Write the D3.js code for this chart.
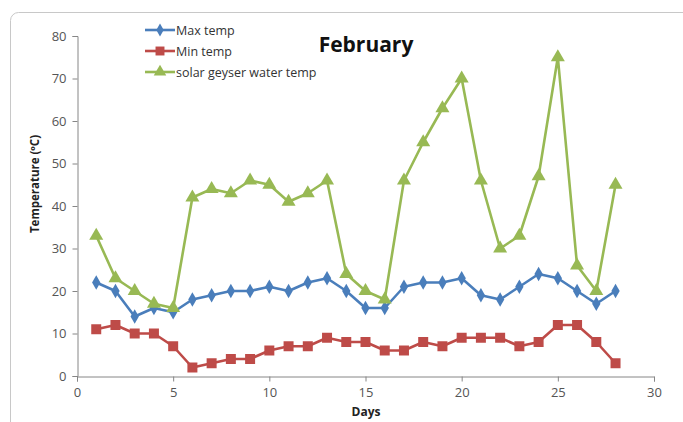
<!DOCTYPE html>
<html>
<head>
<meta charset="utf-8">
<script src="https://cdn.jsdelivr.net/npm/d3@7"></script>
<style>
  html, body { margin: 0; padding: 0; background: #fff; }
  svg { display: block; }
</style>
</head>
<body>
<svg id="chart" width="683" height="422"></svg>
<script>
// Daily temperatures for February
const days = d3.range(1, 29);
const maxTemp = [22,20,14,16,15,18,19,20,20,21,20,22,23,20,16,16,21,22,22,23,19,18,21,24,23,20,17,20];
const minTemp = [11,12,10,10,7,2,3,4,4,6,7,7,9,8,8,6,6,8,7,9,9,9,7,8,12,12,8,3];
const geyserTemp = [33,23,20,17,16,42,44,43,46,45,41,43,46,24,20,18,46,55,63,70,46,30,33,47,75,26,20,45];

const seriesNames = ["Max temp", "Min temp", "solar geyser water temp"];
const xTicks = [0, 5, 10, 15, 20, 25, 30];
const yTicks = [0, 10, 20, 30, 40, 50, 60, 70, 80];

const series = [
  { name: seriesNames[0], values: maxTemp, color: "#4a7ebb", symbol: d3.symbolDiamond, size: 60 },
  { name: seriesNames[1], values: minTemp, color: "#be4b48", symbol: d3.symbolSquare, size: 100 },
  { name: seriesNames[2], values: geyserTemp, color: "#98b954", symbol: d3.symbolTriangle, size: 85 }
];

const svg = d3.select("#chart");
const font = "Open Sans, Liberation Sans, sans-serif";

// outer frame
svg.append("rect")
  .attr("x", 10.5).attr("y", 12.5)
  .attr("width", 700).attr("height", 440)
  .attr("rx", 8).attr("ry", 8)
  .attr("fill", "#fff").attr("stroke", "#c8c8c8").attr("stroke-width", 1);

const x = d3.scaleLinear().domain([0, 30]).range([77, 654]);
const y = d3.scaleLinear().domain([0, 80]).range([376, 36]);

const axisColor = "#868686";

// x axis
const gx = svg.append("g").attr("transform", `translate(0,${y(0) + 0.5})`)
  .call(d3.axisBottom(x).tickValues(xTicks).tickSize(5).tickPadding(6));
gx.select(".domain").attr("stroke", axisColor);
gx.selectAll(".tick line").attr("stroke", axisColor);
gx.selectAll(".tick text").attr("fill", "#555").attr("font-size", 13).attr("font-family", font);

// y axis
const gy = svg.append("g").attr("transform", `translate(${x(0) + 0.5},0)`)
  .call(d3.axisLeft(y).tickValues(yTicks).tickSize(5).tickPadding(6));
gy.select(".domain").attr("stroke", axisColor);
gy.selectAll(".tick line").attr("stroke", axisColor);
gy.selectAll(".tick text").attr("fill", "#555").attr("font-size", 13).attr("font-family", font);

// series lines and markers
series.forEach(s => {
  const pts = days.map((d, i) => [d, s.values[i]]);
  svg.append("path")
    .datum(pts)
    .attr("fill", "none")
    .attr("stroke", s.color)
    .attr("stroke-width", 2.6)
    .attr("stroke-linejoin", "round")
    .attr("d", d3.line().x(p => x(p[0])).y(p => y(p[1])));
  svg.append("g").selectAll("path")
    .data(pts)
    .join("path")
    .attr("transform", p => `translate(${x(p[0])},${y(p[1])})`)
    .attr("d", d3.symbol().type(s.symbol).size(s.size))
    .attr("fill", s.color);
});

// legend
const legend = svg.append("g").attr("transform", "translate(145,30)");
series.forEach((s, i) => {
  const g = legend.append("g").attr("transform", `translate(0,${i * 21})`);
  g.append("line").attr("x1", 0).attr("x2", 30).attr("y1", 0).attr("y2", 0)
    .attr("stroke", s.color).attr("stroke-width", 2.6);
  g.append("path").attr("transform", "translate(15,0)")
    .attr("d", d3.symbol().type(s.symbol).size(s.size * 0.8))
    .attr("fill", s.color);
  g.append("text").attr("x", 31).attr("y", 4.5)
    .attr("font-size", 12.5).attr("font-family", font).attr("fill", "#333")
    .text(s.name);
});

// title
svg.append("text")
  .attr("x", 366).attr("y", 52)
  .attr("text-anchor", "middle")
  .attr("font-size", 21).attr("font-weight", "bold").attr("font-family", font)
  .attr("fill", "#111")
  .text("February");

// axis titles
svg.append("text")
  .attr("x", 366).attr("y", 416)
  .attr("text-anchor", "middle")
  .attr("font-size", 12).attr("font-weight", "bold").attr("font-family", font)
  .attr("fill", "#222")
  .text("Days");

svg.append("text")
  .attr("transform", "translate(39,184) rotate(-90)")
  .attr("text-anchor", "middle")
  .attr("font-size", 11.5).attr("font-weight", "bold").attr("font-family", font)
  .attr("fill", "#222")
  .text("Temperature (ºC)");
</script>
</body>
</html>
